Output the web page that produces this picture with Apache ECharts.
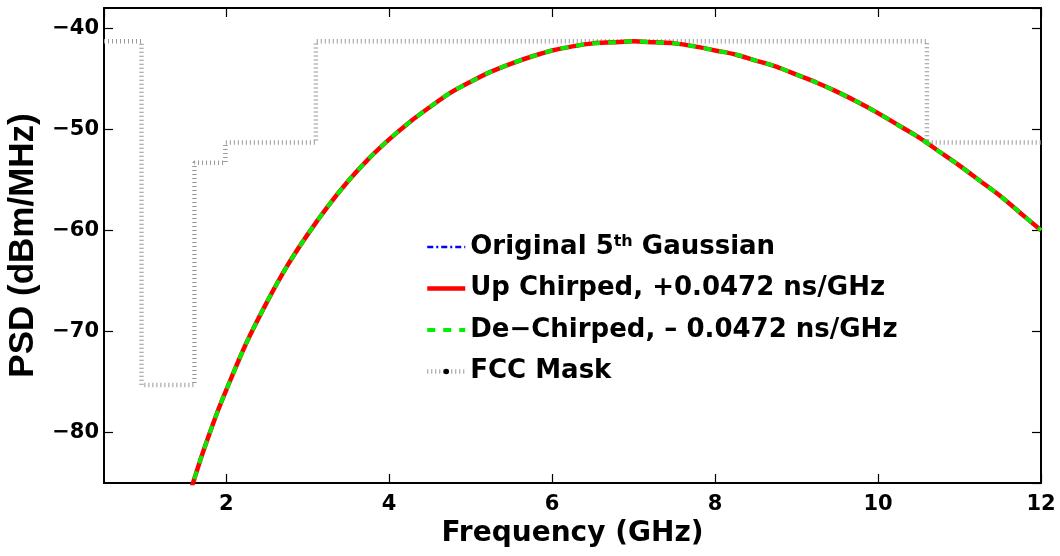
<!DOCTYPE html>
<html lang="en">
<head>
    <meta charset="UTF-8">
    <script src="https://cdn.jsdelivr.net/npm/echarts@6/dist/echarts.min.js"></script>
    <style type="text/css">
        html, body, #main {
            height: 100%;
            width: 100%;
            margin: 0;
            padding: 0;
            background: #fff;
        }
    </style>
    <title>PSD vs FCC mask</title>
</head>
<body>
<div id="main"></div>
<script>
    // frequency grid (GHz) of the pulse spectra
    var freqGHz = [1.55, 1.6, 1.7, 1.8, 1.9, 2.0, 2.25, 2.5, 2.75, 3.0, 3.25, 3.5, 3.75,
        4.0, 4.25, 4.5, 4.75, 5.0, 5.25, 5.5, 5.75, 6.0, 6.25, 6.5, 6.75, 7.0,
        7.25, 7.5, 7.75, 8.0, 8.25, 8.5, 8.75, 9.0, 9.25, 9.5, 9.75, 10.0,
        10.25, 10.5, 10.75, 11.0, 11.25, 11.5, 11.75, 12.0];
    // PSD (dBm/MHz), the three spectra lie on top of each other
    var psdOriginal = [-86.1, -84.8, -82.3, -80.0, -77.8, -75.8, -71.1, -67.1, -63.5, -60.4, -57.6, -55.1, -52.9,
        -51.0, -49.3, -47.8, -46.4, -45.3, -44.3, -43.5, -42.8, -42.2, -41.8, -41.5, -41.4, -41.3,
        -41.4, -41.5, -41.8, -42.2, -42.6, -43.2, -43.8, -44.6, -45.4, -46.3, -47.3, -48.4,
        -49.6, -50.8, -52.2, -53.6, -55.1, -56.6, -58.3, -60.0];
    var psdUpChirp = psdOriginal.slice();
    var psdDeChirp = psdOriginal.slice();
    // FCC indoor UWB mask corners
    var maskFreq = [0.5, 0.96, 0.96, 1.61, 1.61, 1.99, 1.99, 3.1, 3.1, 10.6, 10.6, 12];
    var maskLevel = [-41.3, -41.3, -75.3, -75.3, -53.3, -53.3, -51.3, -51.3, -41.3, -41.3, -51.3, -51.3];

    var seriesNames = ['Original 5th Gaussian', 'Up Chirped, +0.0472 ns/GHz',
        'De\u2212Chirped, \u2013 0.0472 ns/GHz', 'FCC Mask'];

    function pairs(xs, ys) {
        return xs.map(function (x, i) { return [x, ys[i]]; });
    }

    var font = '"DejaVu Sans", Verdana, sans-serif';
    var fontNarrow = '"Liberation Sans", Arial, Helvetica, sans-serif';
    var myChart = echarts.init(document.getElementById('main'));

    var axisBase = {
        type: 'value',
        splitLine: {show: false},
        axisLine: {onZero: false, lineStyle: {color: '#000', width: 2}},
        axisTick: {inside: true, length: 9, lineStyle: {color: '#000', width: 1.2}}
    };

    option = {
        animation: false,
        backgroundColor: '#fff',
        grid: {left: 104, right: 19, top: 8, bottom: 73, containLabel: false, outerBoundsMode: 'none'},
        legend: {
            orient: 'vertical',
            left: 420,
            top: 229,
            itemWidth: 38,
            itemHeight: 7,
            itemGap: 15.5,
            data: seriesNames,
            lineStyle: {width: 'inherit'},
            formatter: function (name) {
                var parts = name.split('5th');
                if (parts.length < 2) {
                    return '{n|' + name + '}';
                }
                return '{n|' + parts[0] + '5}{sup|th}{n|' + parts[1] + '}';
            },
            textStyle: {
                fontFamily: font,
                fontWeight: 'bold',
                fontSize: 26,
                lineHeight: 26,
                color: '#000',
                rich: {
                    n: {
                        fontFamily: font, fontWeight: 'bold', fontSize: 26, lineHeight: 26,
                        verticalAlign: 'middle', color: '#000'
                    },
                    sup: {
                        fontFamily: font, fontWeight: 'bold', fontSize: 16, lineHeight: 13,
                        verticalAlign: 'top', color: '#000'
                    }
                }
            }
        },
        xAxis: [
            Object.assign({}, axisBase, {
                min: 0.5, max: 12,
                name: 'Frequency (GHz)',
                nameLocation: 'middle',
                nameGap: 31,
                nameTextStyle: {fontFamily: font, fontWeight: 'bold', fontSize: 28, color: '#000'},
                axisLabel: {
                    showMinLabel: false,
                    margin: 11,
                    fontFamily: font, fontWeight: 'bold', fontSize: 21, color: '#000'
                }
            }),
            Object.assign({}, axisBase, {
                min: 0.5, max: 12, position: 'top',
                axisLabel: {show: false}
            })
        ],
        yAxis: [
            Object.assign({}, axisBase, {
                min: -85, max: -38,
                name: 'PSD (dBm/MHz)',
                nameLocation: 'middle',
                nameGap: 62,
                nameTextStyle: {fontFamily: fontNarrow, fontWeight: 'bold', fontSize: 35, color: '#000'},
                axisLabel: {
                    showMinLabel: false,
                    showMaxLabel: false,
                    margin: 5,
                    fontFamily: font, fontWeight: 'bold', fontSize: 21, color: '#000',
                    formatter: function (v) { return String(v).replace('-', '\u2212'); }
                }
            }),
            Object.assign({}, axisBase, {
                min: -85, max: -38, position: 'right',
                axisLabel: {show: false}
            })
        ],
        series: [
            {
                name: seriesNames[0],
                type: 'line',
                symbol: 'rect',
                showSymbol: false,
                data: pairs(freqGHz, psdOriginal),
                itemStyle: {color: 'transparent'},
                lineStyle: {color: '#0000ff', width: 2.5, type: [6, 3, 2, 3]},
                z: 2
            },
            {
                name: seriesNames[1],
                type: 'line',
                symbol: 'rect',
                showSymbol: false,
                smooth: 0.3,
                data: pairs(freqGHz, psdUpChirp),
                itemStyle: {color: 'transparent'},
                lineStyle: {color: '#ff0000', width: 4.5, type: 'solid'},
                z: 3
            },
            {
                name: seriesNames[2],
                type: 'line',
                symbol: 'rect',
                showSymbol: false,
                smooth: 0.3,
                data: pairs(freqGHz, psdDeChirp),
                itemStyle: {color: 'transparent'},
                lineStyle: {color: '#00ee00', width: 4, type: [8, 8], cap: 'butt'},
                z: 4
            },
            {
                name: seriesNames[3],
                type: 'line',
                symbol: 'circle',
                symbolSize: 5,
                showSymbol: false,
                data: pairs(maskFreq, maskLevel),
                itemStyle: {color: '#000'},
                lineStyle: {color: '#999999', width: 4.5, type: [1, 3], cap: 'butt'},
                z: 1
            }
        ]
    };

    myChart.setOption(option);
</script>
</body>
</html>
